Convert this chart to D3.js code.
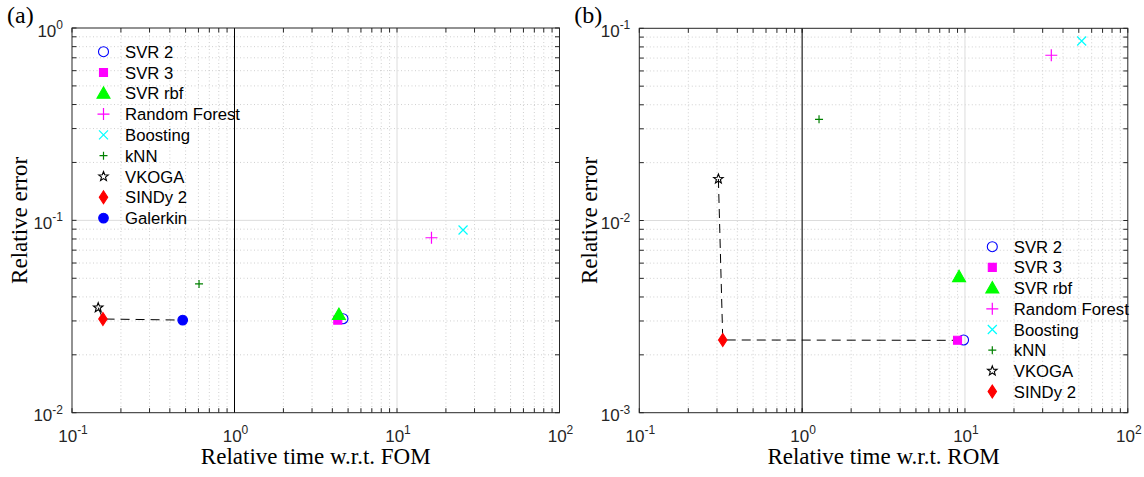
<!DOCTYPE html>
<html><head><meta charset="utf-8">
<script src="https://cdn.jsdelivr.net/npm/d3@7"></script>
<style>body{margin:0;background:#fff}svg{display:block}</style>
</head><body>
<svg id="c" width="1144" height="477"></svg>
<script>
// ---------- data ----------
const methodsFOM = ["SVR 2","SVR 3","SVR rbf","Random Forest","Boosting","kNN","VKOGA","SINDy 2","Galerkin"];
const timeFOM    = [4.65, 4.32, 4.39, 16.3, 25.5, 0.605, 0.145, 0.155, 0.48];
const errorFOM   = [0.0308, 0.0303, 0.0324, 0.0812, 0.0891, 0.0467, 0.0352, 0.0307, 0.0303];
const frontFOM   = ["VKOGA","SINDy 2","Galerkin"];

const methodsROM = ["SVR 2","SVR 3","SVR rbf","Random Forest","Boosting","kNN","VKOGA","SINDy 2"];
const timeROM    = [9.8, 9.0, 9.2, 33.9, 52.1, 1.27, 0.306, 0.3255];
const errorROM   = [0.00239, 0.00238, 0.0051, 0.0724, 0.0859, 0.0336, 0.01644, 0.00239];
const frontROM   = ["VKOGA","SINDy 2","SVR 3"];

const xTicks = [0.1, 1, 10, 100];
const yTicksFOM = [0.01, 0.1, 1];
const yTicksROM = [0.001, 0.01, 0.1];

// ---------- styles ----------
const markerStyle = {
  "SVR 2":        {shape:"circle",  fill:"none",    stroke:"#0000ff", size:5},
  "SVR 3":        {shape:"square",  fill:"#ff00ff", stroke:"#ff00ff", size:4},
  "SVR rbf":      {shape:"triangle",fill:"#00ff00", stroke:"#00ff00", size:6.5},
  "Random Forest":{shape:"plus",    fill:"none",    stroke:"#ff00ff", size:6},
  "Boosting":     {shape:"cross",   fill:"none",    stroke:"#00ffff", size:4.5},
  "kNN":          {shape:"plus",    fill:"none",    stroke:"#008000", size:4},
  "VKOGA":        {shape:"star",    fill:"none",    stroke:"#000000", size:5},
  "SINDy 2":      {shape:"diamond", fill:"#ff0000", stroke:"#ff0000", size:6.5},
  "Galerkin":     {shape:"circle",  fill:"#0000ff", stroke:"#0000ff", size:4.8}
};

function markerPath(shape, s){
  switch(shape){
    case "circle": return d3.arc()({innerRadius:0,outerRadius:s,startAngle:0,endAngle:2*Math.PI});
    case "square": return `M${-s},${-s}H${s}V${s}H${-s}Z`;
    case "triangle": return `M0,${-s}L${s*1.0},${s*0.75}L${-s*1.0},${s*0.75}Z`;
    case "plus": return `M${-s},0H${s}M0,${-s}V${s}`;
    case "cross": return `M${-s},${-s}L${s},${s}M${-s},${s}L${s},${-s}`;
    case "diamond": return `M0,${-s}L${s*0.65},0L0,${s}L${-s*0.65},0Z`;
    case "star": {
      let p=[]; for(let i=0;i<10;i++){const r=i%2?s*0.42:s; const a=-Math.PI/2+i*Math.PI/5; p.push([r*Math.cos(a),r*Math.sin(a)]);}
      return "M"+p.map(q=>q[0].toFixed(2)+","+q[1].toFixed(2)).join("L")+"Z";
    }
  }
}
function drawMarker(g, name, x, y){
  const st = markerStyle[name];
  g.append("path").attr("d", markerPath(st.shape, st.size))
    .attr("transform", `translate(${x},${y})`)
    .attr("fill", st.fill).attr("stroke", st.stroke)
    .attr("stroke-width", (st.shape==="plus"||st.shape==="cross")?1.2:1.1);
}

const svg = d3.select("#c");
const axisColor = "#262626";

function panel(opt){
  const {left,right,top,bottom,yDomain,yTicks,methods,times,errors,front,label,xTitle,legendX,legendY,legendStep,labelX} = opt;
  const x = d3.scaleLog().domain([0.1,100]).range([left,right]);
  const y = d3.scaleLog().domain(yDomain).range([bottom,top]);
  const g = svg.append("g");

  const minors = (dom)=>{ const out=[]; const lo=Math.round(Math.log10(dom[0])), hi=Math.round(Math.log10(dom[1]));
    for(let e=lo;e<hi;e++) for(let k=2;k<=9;k++) out.push(k*Math.pow(10,e)); return out; };
  const xMin = minors([0.1,100]), yMin = minors(yDomain);

  // minor grid (dotted)
  g.selectAll(null).data(xMin).join("line")
    .attr("x1",d=>x(d)).attr("x2",d=>x(d)).attr("y1",top).attr("y2",bottom)
    .attr("stroke","#c4c4c4").attr("stroke-width",0.8).attr("stroke-dasharray","1,2.5");
  g.selectAll(null).data(yMin).join("line")
    .attr("y1",d=>y(d)).attr("y2",d=>y(d)).attr("x1",left).attr("x2",right)
    .attr("stroke","#c4c4c4").attr("stroke-width",0.8).attr("stroke-dasharray","1,2.5");
  // major grid (solid)
  g.selectAll(null).data(xTicks.slice(1,-1)).join("line")
    .attr("x1",d=>x(d)).attr("x2",d=>x(d)).attr("y1",top).attr("y2",bottom)
    .attr("stroke","#dcdcdc").attr("stroke-width",1);
  g.selectAll(null).data(yTicks.slice(1,-1)).join("line")
    .attr("y1",d=>y(d)).attr("y2",d=>y(d)).attr("x1",left).attr("x2",right)
    .attr("stroke","#dcdcdc").attr("stroke-width",1);

  // ticks inward on four sides
  const tl = 4.5;
  const allX = xTicks.concat(xMin), allY = yTicks.concat(yMin);
  allX.forEach(v=>{
    g.append("line").attr("x1",x(v)).attr("x2",x(v)).attr("y1",bottom).attr("y2",bottom-tl).attr("stroke",axisColor);
    g.append("line").attr("x1",x(v)).attr("x2",x(v)).attr("y1",top).attr("y2",top+tl).attr("stroke",axisColor);
  });
  allY.forEach(v=>{
    g.append("line").attr("y1",y(v)).attr("y2",y(v)).attr("x1",left).attr("x2",left+tl).attr("stroke",axisColor);
    g.append("line").attr("y1",y(v)).attr("y2",y(v)).attr("x1",right).attr("x2",right-tl).attr("stroke",axisColor);
  });

  // black reference line at x = 1
  g.append("line").attr("x1",x(1)).attr("x2",x(1)).attr("y1",top).attr("y2",bottom)
    .attr("stroke","#000").attr("stroke-width",1);

  // box
  g.append("rect").attr("x",left).attr("y",top).attr("width",right-left).attr("height",bottom-top)
    .attr("fill","none").attr("stroke",axisColor).attr("stroke-width",1);

  // tick labels
  const expLabel = (sel, v)=>{
    const e = Math.round(Math.log10(v));
    sel.append("tspan").text("10");
    sel.append("tspan").attr("dy",-7.5).attr("font-size",12).text(String(e));
  };
  xTicks.forEach(v=>{
    const t = g.append("text").attr("x",x(v)+1).attr("y",bottom+29)
      .attr("text-anchor","middle").attr("font-family","Liberation Sans, Arial, sans-serif")
      .attr("font-size",17).attr("fill","#262626");
    expLabel(t, v);
  });
  yTicks.forEach(v=>{
    const t = g.append("text").attr("x",left-9).attr("y",y(v)+8.5)
      .attr("text-anchor","end").attr("font-family","Liberation Sans, Arial, sans-serif")
      .attr("font-size",17).attr("fill","#262626");
    expLabel(t, v);
  });

  // axis titles
  g.append("text").attr("x",(left+right)/2).attr("y",bottom+51)
    .attr("text-anchor","middle").attr("font-family","Liberation Serif, Times New Roman, serif")
    .attr("font-size",23).attr("fill","#000").text(xTitle);
  g.append("text").attr("transform",`translate(${labelX},${(top+bottom)/2}) rotate(-90)`)
    .attr("text-anchor","middle").attr("font-family","Liberation Serif, Times New Roman, serif")
    .attr("font-size",23).attr("fill","#000").text("Relative error");
  g.append("text").attr("x",left-65).attr("y",top-5)
    .attr("font-family","Liberation Serif, Times New Roman, serif")
    .attr("font-size",24).attr("fill","#000").text(label);

  // Pareto front dashed line
  const fp = front.map(n=>{const i=methods.indexOf(n); return [x(times[i]), y(errors[i])];});
  g.append("path").attr("d", d3.line()(fp)).attr("fill","none")
    .attr("stroke","#000").attr("stroke-width",1).attr("stroke-dasharray","9,6");

  // markers
  methods.forEach((m,i)=> drawMarker(g, m, x(times[i]), y(errors[i])));

  // legend
  methods.forEach((m,i)=>{
    const ly = legendY + i*legendStep;
    drawMarker(g, m, legendX, ly);
    g.append("text").attr("x",legendX+21.5).attr("y",ly+6)
      .attr("font-family","Liberation Sans, Arial, sans-serif").attr("font-size",16.7)
      .attr("fill","#000").text(m);
  });
}

panel({left:72,right:559.5,top:28,bottom:412.7,yDomain:[0.01,1],yTicks:yTicksFOM,
  methods:methodsFOM,times:timeFOM,errors:errorFOM,front:frontFOM,label:"(a)",
  xTitle:"Relative time w.r.t. FOM",legendX:103.5,legendY:51.7,legendStep:20.8,labelX:27});
panel({left:639.3,right:1127.8,top:28.3,bottom:412.7,yDomain:[0.001,0.1],yTicks:yTicksROM,
  methods:methodsROM,times:timeROM,errors:errorROM,front:frontROM,label:"(b)",
  xTitle:"Relative time w.r.t. ROM",legendX:992.3,legendY:246.7,legendStep:20.7,labelX:597});
</script>
</body></html>
